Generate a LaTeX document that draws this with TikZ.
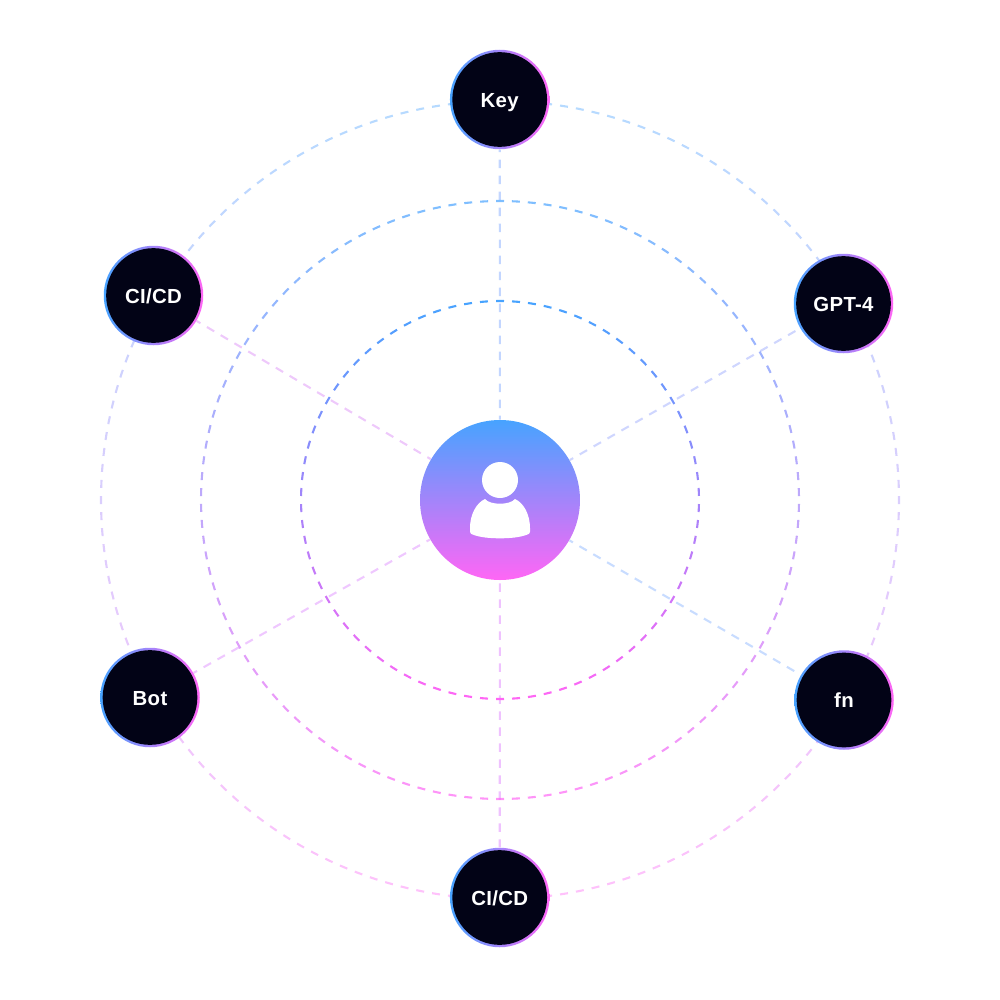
\documentclass[tikz,border=0pt]{standalone}
\usepackage{xcolor}
\usepackage{fontspec}
\setsansfont{Liberation Sans}[LetterSpace=1.5]
\usetikzlibrary{backgrounds}

\definecolor{ringtop}{HTML}{47A3FF}
\definecolor{ringbot}{HTML}{FF66F5}
\definecolor{toolfill}{HTML}{020316}

\begin{document}
\begin{tikzpicture}[
        x=0.2mm, y=-0.2mm,
        % Dark discs with a thin left-to-right gradient rim
        tool/.style = {
            circle,
            minimum size=19.9mm,
            inner sep=0pt,
            left color=ringtop,
            right color=ringbot,
            text=white,
            text height=3mm,
            text depth=0pt,
            font=\sffamily\bfseries\fontsize{11.6}{13}\selectfont,
            path picture={\fill[toolfill] (path picture bounding box.center) circle (9.47mm);}
        },
        % Central disc with the top-to-bottom gradient
        hubdisc/.style = {
            circle,
            minimum size=32mm,
            inner sep=0pt,
            top color=ringtop,
            bottom color=ringbot
        },
        % Dashes of the rings and of the spokes
        ringdash/.style = {line width=0.42mm},
        spoke/.style = {line width=0.42mm, dash pattern=on 1.7mm off 1.5mm, dash phase=0.9mm}
    ]
        \useasboundingbox (0,0) rectangle (1000,1000);

        % 1. Nodes
        \node (hub)   [hubdisc] at (500,500) {};
        \node (key)   [tool] at (499.7,99.5) {Key};
        \node (gpt)   [tool] at (843.5,303.5) {GPT-4};
        \node (fn)    [tool] at (844,700) {fn};
        \node (cicdb) [tool] at (499.7,897.5) {CI/CD};
        \node (bot)   [tool] at (150,697.5) {Bot};
        \node (cicdl) [tool] at (153.5,295.5) {CI/CD};

        % 2. Person icon on the hub
        \fill[white] (500,480) circle (18);
        \fill[white] (485,499) .. controls (490,505.3) and (510,505.3) .. (515,499)
            .. controls (524,503) and (530,515) .. (530,528) -- (530,531.5)
            .. controls (530,533) and (529,534) .. (528,534.3)
            .. controls (520,537.5) and (510,538.3) .. (500,538.3)
            .. controls (490,538.3) and (480,537.5) .. (472,534.3)
            .. controls (471,534) and (470,533) .. (470,531.5) -- (470,528)
            .. controls (470,515) and (476,503) .. (485,499) -- cycle;

        \begin{pgfonlayer}{background}
            % 3. Spokes
            \draw [spoke, color={rgb,255:red,195;green,214;blue,255}] (hub) -- (key);
            \draw [spoke, color={rgb,255:red,207;green,214;blue,254}] (hub) -- (gpt);
            \draw [spoke, color={rgb,255:red,200;green,220;blue,255}] (hub) -- (fn);
            \draw [spoke, dash phase=2.6mm, color={rgb,255:red,239;green,194;blue,255}] (hub) -- (cicdb);
            \draw [spoke, color={rgb,255:red,239;green,200;blue,255}] (hub) -- (bot);
            \draw [spoke, color={rgb,255:red,238;green,201;blue,251}] (hub) -- (cicdl);

            % 4. Rings, one dash at a time so that the colour can follow the height
            \foreach \ringrad/\ringnum/\ringop in {199/78/1, 299/118/.7, 399/156/.4} {
                \pgfmathsetmacro{\ringhalf}{4/\ringrad*57.2958}
                \foreach \i in {1,...,\ringnum} {
                    \pgfmathsetmacro{\ringang}{90+(\i-1)/\ringnum*360}
                    \pgfmathsetmacro{\ringmix}{50+50*sin(\ringang)}
                    \draw [ringdash, draw opacity=\ringop, color=ringbot!\ringmix!ringtop]
                        ([shift={(hub.center)}]\ringang-\ringhalf:\ringrad)
                        arc[start angle=\ringang-\ringhalf, end angle=\ringang+\ringhalf, radius=\ringrad];
                }
            }
        \end{pgfonlayer}

    \end{tikzpicture}
\end{document}
